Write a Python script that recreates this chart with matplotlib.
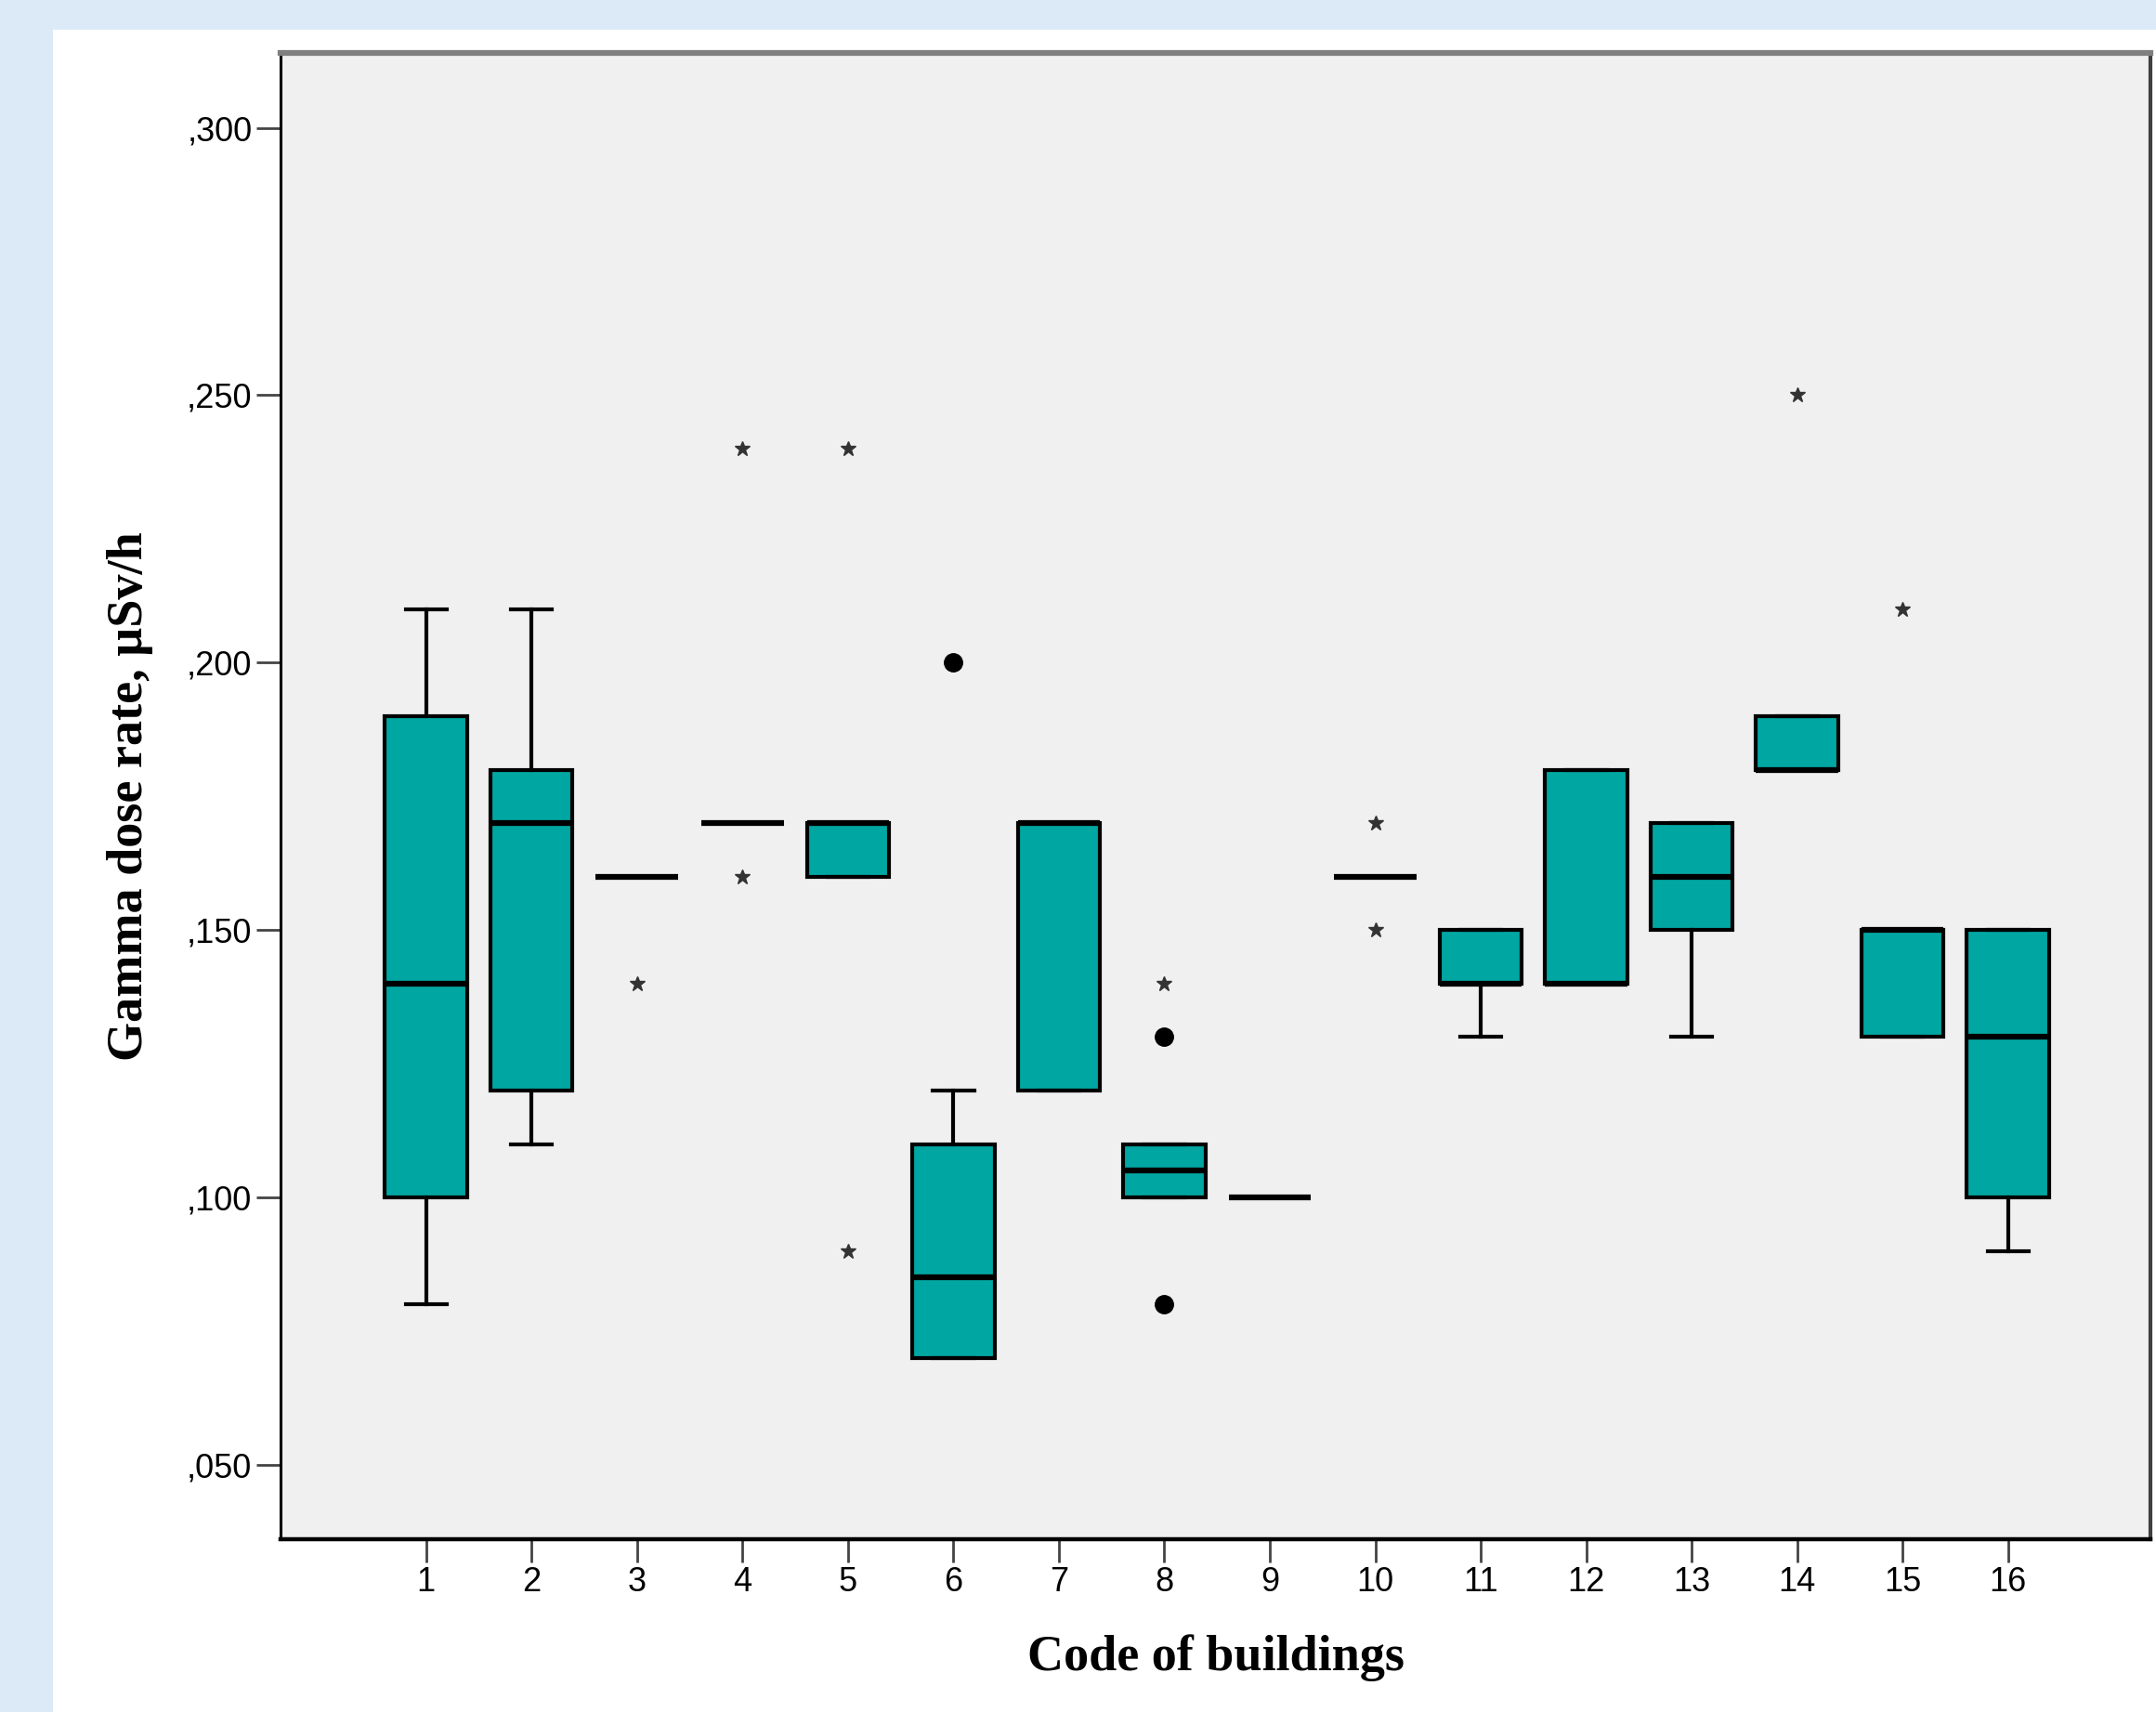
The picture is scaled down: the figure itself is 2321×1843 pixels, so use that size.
import matplotlib.pyplot as plt
from matplotlib.ticker import FuncFormatter

# box statistics per building
codes    = [1, 2, 3, 4, 5, 6, 7, 8, 9, 10, 11, 12, 13, 14, 15, 16]
whislo   = [0.08, 0.11, 0.16, 0.17, 0.16, 0.07, 0.12, 0.10, 0.10, 0.16, 0.13, 0.14, 0.13, 0.18, 0.13, 0.09]
q1       = [0.10, 0.12, 0.16, 0.17, 0.16, 0.07, 0.12, 0.10, 0.10, 0.16, 0.14, 0.14, 0.15, 0.18, 0.13, 0.10]
medians  = [0.14, 0.17, 0.16, 0.17, 0.17, 0.085, 0.17, 0.105, 0.10, 0.16, 0.14, 0.14, 0.16, 0.18, 0.15, 0.13]
q3       = [0.19, 0.18, 0.16, 0.17, 0.17, 0.11, 0.17, 0.11, 0.10, 0.16, 0.15, 0.18, 0.17, 0.19, 0.15, 0.15]
whishi   = [0.21, 0.21, 0.16, 0.17, 0.17, 0.12, 0.17, 0.11, 0.10, 0.16, 0.15, 0.18, 0.17, 0.19, 0.15, 0.15]

# outliers (circles) and extremes (stars)
out_x = [6, 8, 8]
out_y = [0.20, 0.13, 0.08]
ext_x = [3, 4, 4, 5, 5, 8, 10, 10, 14, 15]
ext_y = [0.14, 0.24, 0.16, 0.24, 0.09, 0.14, 0.17, 0.15, 0.25, 0.21]

yticks = [0.05, 0.10, 0.15, 0.20, 0.25, 0.30]

fig = plt.figure(figsize=(23.21, 18.43), dpi=100, facecolor='#dce9f6')
# white panel behind the chart
bg = fig.add_axes([57 / 2321, 0, 1 - 57 / 2321, 1 - 32 / 1843], zorder=-5)
bg.set_facecolor('white')
bg.set_xticks([])
bg.set_yticks([])
for s in bg.spines.values():
    s.set_visible(False)

ax = fig.add_axes([302 / 2321, 1 - 1657 / 1843, (2315 - 302) / 2321, 1600 / 1843])
ax.set_facecolor('#f0f0f0')

stats = []
for i in range(len(codes)):
    stats.append(dict(med=medians[i], q1=q1[i], q3=q3[i], whislo=whislo[i], whishi=whishi[i]))

ax.bxp(stats, positions=codes, widths=0.78, capwidths=0.39, showfliers=False, patch_artist=True,
       boxprops=dict(facecolor='#00a6a2', edgecolor='black', linewidth=3.0),
       medianprops=dict(color='black', linewidth=4.5, solid_capstyle='butt'),
       whiskerprops=dict(color='black', linewidth=3.0),
       capprops=dict(color='black', linewidth=3.0))

ax.plot(out_x, out_y, 'o', color='black', markersize=14, zorder=3)
ax.plot(ext_x, ext_y, '*', color='#333333', markersize=12, zorder=3)

ax.set_xlim(-0.38, 17.35)
ax.set_ylim(0.0361, 0.314)
ax.set_xticks(codes)
ax.set_xticklabels([str(c) for c in codes], fontsize=26, family='Liberation Sans')
ax.set_yticks(yticks)
ax.yaxis.set_major_formatter(FuncFormatter(lambda v, p: ('%.3f' % v).lstrip('0').replace('.', ',')))
for lab in ax.get_yticklabels():
    lab.set_family('Liberation Sans')
ax.tick_params(axis='y', labelsize=26, length=19, width=2, color='#444444', pad=3)
ax.tick_params(axis='x', labelsize=26, length=18, width=2, color='#444444', pad=3)

for side, col, lw in [('left', 'black', 2.2), ('bottom', 'black', 3.2),
                      ('top', '#7f7f7f', 4.5), ('right', '#404040', 3.0)]:
    ax.spines[side].set_color(col)
    ax.spines[side].set_linewidth(lw)

ax.set_ylabel('Gamma dose rate, µSv/h', fontsize=39, fontweight='bold', family='Liberation Serif')
ax.set_xlabel('Code of buildings', fontsize=39, fontweight='bold', family='Liberation Serif', va='top')
ax.yaxis.set_label_coords(-0.068, 0.5)
ax.xaxis.set_label_coords(0.5, -0.064)

fig.savefig('out.png', dpi=100, facecolor=fig.get_facecolor())
